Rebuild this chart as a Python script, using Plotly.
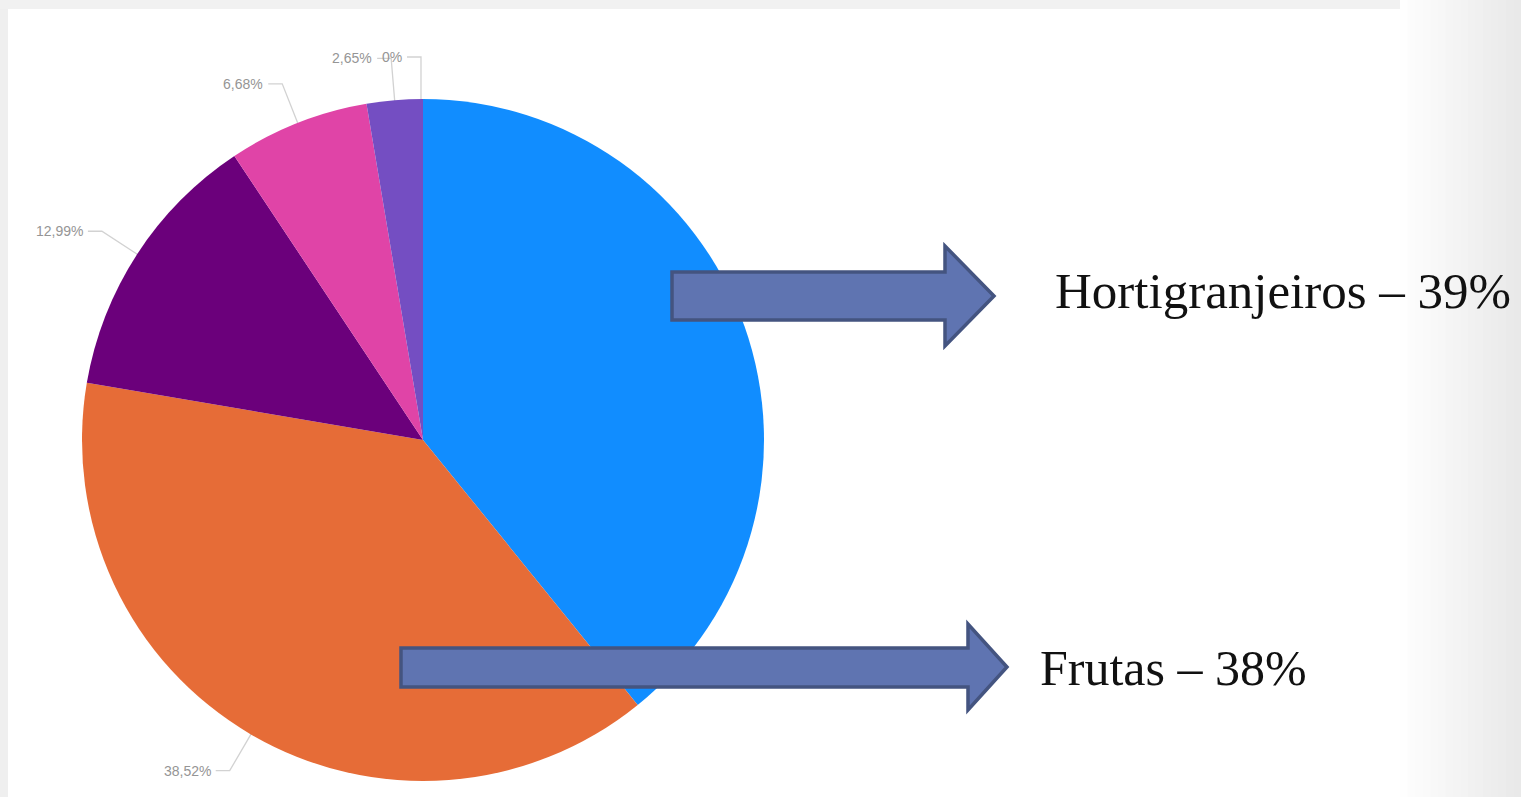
import math
import plotly.graph_objects as go

labels = ["Hortigranjeiros", "Frutas", "Categoria 3", "Categoria 4", "Categoria 5", "Categoria 6"]
values = [39.16, 38.52, 12.99, 6.68, 2.65, 0.0]
colors = ["#118DFF", "#E66C37", "#6B007B", "#E044A7", "#744EC2", "#D9B300"]
callouts = ["Hortigranjeiros – 39%", "Frutas – 38%"]

W, H = 1521, 797


def px(x):
    return x / W


def py(y):
    return 1 - y / H


def text_for(v):
    if v == 0:
        return "0%"
    return f"{v:.2f}".replace(".", ",") + "%"


fig = go.Figure()
cx, cy, r = 423, 440, 341
fig.add_trace(go.Pie(
    labels=labels, values=values,
    textinfo="none",
    marker=dict(colors=colors, line=dict(width=0)),
    sort=False, direction="clockwise", rotation=0,
    showlegend=False, automargin=False,
    domain=dict(x=[px(cx - r), px(cx + r)], y=[py(cy + r), py(cy - r)]),
    hoverinfo="label+percent",
))

shapes = []
# slide background: soft gradient on the right, light frame top/left
n = 16
for k in range(n):
    x0 = 1400 + k * (W - 1400) / n
    g = int(round(255 - (k + 1) * 22 / n))
    shapes.append(dict(type="rect", xref="paper", yref="paper", x0=px(x0), x1=1, y0=0, y1=1,
                       fillcolor=f"rgb({g},{g},{g})", line=dict(width=0), layer="below"))
shapes.append(dict(type="rect", xref="paper", yref="paper", x0=0, x1=px(8), y0=0, y1=1,
                   fillcolor="#efefef", line=dict(width=0), layer="below"))
shapes.append(dict(type="rect", xref="paper", yref="paper", x0=0, x1=px(1400), y0=py(9), y1=1,
                   fillcolor="#f1f1f1", line=dict(width=0), layer="below"))

# outside data labels with leader lines (computed from slice angles)
annotations = []
total = sum(values)
cum = 0.0
for i, v in enumerate(values):
    mid = (cum + v / 2) / total * 2 * math.pi
    cum += v
    if i == 0:
        continue  # label of the first slice is hidden behind the arrow
    dx, dy = math.sin(mid), -math.cos(mid)
    left = dx < 0 or i == len(values) - 1
    ex, ey = cx + dx * (r - 2), cy + dy * (r - 2)
    ox, oy = cx + dx * (r + 42), cy + dy * (r + 42)
    if i == len(values) - 1:
        ex, ey = cx - 2, cy - r + 4
        ox, oy = ex, cy - r - 42
    hx = ox - 14 if left else ox + 14
    path = f"M {px(ex):.5f},{py(ey):.5f} L {px(ox):.5f},{py(oy):.5f} L {px(hx):.5f},{py(oy):.5f}"
    shapes.append(dict(type="path", xref="paper", yref="paper", path=path,
                       line=dict(color="#d2d2d2", width=1.3), layer="below"))
    annotations.append(dict(text=text_for(v), xref="paper", yref="paper",
                            x=px(hx - 3 if left else hx + 3), y=py(oy),
                            xanchor="right" if left else "left", yanchor="middle",
                            showarrow=False,
                            font=dict(family="Liberation Sans Narrow, Liberation Sans", size=14,
                                      color="#959595")))


def arrow(x0, xb, xt, yb0, yb1, yh0, yh1, ytip):
    pts = [(x0, yb0), (xb, yb0), (xb, yh0), (xt, ytip), (xb, yh1), (xb, yb1), (x0, yb1)]
    path = "M " + " L ".join(f"{px(a):.5f},{py(b):.5f}" for a, b in pts) + " Z"
    return dict(type="path", xref="paper", yref="paper", path=path,
                fillcolor="#5F74B1", line=dict(color="#445480", width=3.5), layer="above")


shapes.append(arrow(672, 945, 994, 272, 320, 246, 346, 296))
shapes.append(arrow(401, 968, 1007, 648, 687, 624, 710, 667))

annotations += [
    dict(text=callouts[0], xref="paper", yref="paper", x=px(1053), y=py(291),
         xanchor="left", yanchor="middle", showarrow=False,
         font=dict(family="Liberation Serif", size=51, color="#111111")),
    dict(text=callouts[1], xref="paper", yref="paper", x=px(1038), y=py(668),
         xanchor="left", yanchor="middle", showarrow=False,
         font=dict(family="Liberation Serif", size=50, color="#111111")),
]

fig.update_layout(
    width=W, height=H, margin=dict(l=0, r=0, t=0, b=0),
    paper_bgcolor="white", plot_bgcolor="white",
    shapes=shapes, annotations=annotations,
)
fig.write_html(
    "out.html",
    config={"displayModeBar": False},
    post_script="document.body.style.margin='0';document.body.style.overflow='hidden';",
)
